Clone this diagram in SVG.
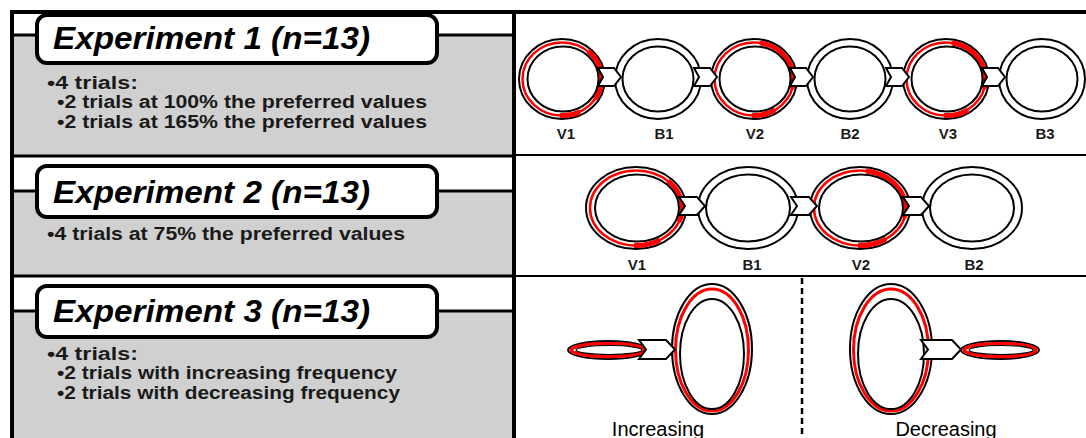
<svg xmlns="http://www.w3.org/2000/svg" width="1086" height="438" viewBox="0 0 1086 438">
<style>
.grey{fill:#d0d0d0}
.ln{stroke:#000;stroke-width:3;fill:none}
.thin{stroke:#000;stroke-width:2;fill:none}
.hbox{fill:#fff;stroke:#000;stroke-width:4}
.title{font-family:"Liberation Sans",Arial,sans-serif;font-weight:bold;font-style:italic;font-size:32px;fill:#000}
.bul{font-family:"Liberation Sans",Arial,sans-serif;font-weight:bold;font-size:18px;fill:#1a1a1a}
.lab{font-family:"Liberation Sans",Arial,sans-serif;font-weight:bold;font-size:15px;fill:#1a1a1a;text-anchor:middle}
.lab2{font-family:"Liberation Sans",Arial,sans-serif;font-size:20px;fill:#000;text-anchor:middle}
.ring{fill:#fff;stroke:#000;stroke-width:2}
.inner{fill:#fff;stroke:#000;stroke-width:2}
.red{fill:none;stroke:#f00;stroke-width:2.5}
.redT{fill:none;stroke:#f00;stroke-width:5}
.chev{fill:#fff;stroke:#000;stroke-width:2;stroke-linejoin:miter}
</style>
<rect width="1086" height="438" fill="#fff"/>
<g id="panel-left">
<rect class="grey" x="12" y="35" width="502" height="121"/>
<rect class="grey" x="12" y="191" width="502" height="85"/>
<rect class="grey" x="12" y="311" width="502" height="127"/>
<line class="ln" x1="12" y1="35" x2="514" y2="35"/>
<line class="ln" x1="12" y1="191" x2="514" y2="191"/>
<line class="ln" x1="12" y1="311" x2="514" y2="311"/>
<line class="ln" x1="12" y1="156" x2="514" y2="156"/>
<line class="ln" x1="12" y1="276" x2="514" y2="276"/>
</g>
<g id="frame">
<line x1="10" y1="12" x2="1086" y2="12" stroke="#000" stroke-width="4"/>
<line x1="12" y1="10" x2="12" y2="438" stroke="#000" stroke-width="4"/>
<line x1="514" y1="10" x2="514" y2="438" stroke="#000" stroke-width="4"/>
<line class="thin" x1="514" y1="155" x2="1086" y2="155"/>
<line class="thin" x1="514" y1="276" x2="1086" y2="276"/>
<line x1="802" y1="278" x2="802" y2="438" stroke="#000" stroke-width="2.5" stroke-dasharray="6 4"/>
</g>
<g id="exp1">
<rect class="hbox" x="37" y="15" width="400" height="48" rx="10"/>
<text class="title" x="53" y="49" textLength="317" lengthAdjust="spacingAndGlyphs">Experiment 1 (n=13)</text>
<text class="bul" x="47" y="89" textLength="91" lengthAdjust="spacingAndGlyphs">•4 trials:</text>
<text class="bul" x="57" y="108" textLength="370" lengthAdjust="spacingAndGlyphs">•2 trials at 100% the preferred values</text>
<text class="bul" x="57" y="128" textLength="370" lengthAdjust="spacingAndGlyphs">•2 trials at 165% the preferred values</text>
</g>
<g id="exp2">
<rect class="hbox" x="37" y="166" width="400" height="51" rx="10"/>
<text class="title" x="53" y="203" textLength="317" lengthAdjust="spacingAndGlyphs">Experiment 2 (n=13)</text>
<text class="bul" x="47" y="240" textLength="358" lengthAdjust="spacingAndGlyphs">•4 trials at 75% the preferred values</text>
</g>
<g id="exp3">
<rect class="hbox" x="37" y="286" width="400" height="51" rx="10"/>
<text class="title" x="53" y="322" textLength="317" lengthAdjust="spacingAndGlyphs">Experiment 3 (n=13)</text>
<text class="bul" x="47" y="360" textLength="91" lengthAdjust="spacingAndGlyphs">•4 trials:</text>
<text class="bul" x="57" y="379" textLength="340" lengthAdjust="spacingAndGlyphs">•2 trials with increasing frequency</text>
<text class="bul" x="57" y="399" textLength="343" lengthAdjust="spacingAndGlyphs">•2 trials with decreasing frequency</text>
</g>
<g id="e1-V1"><ellipse class="ring" cx="562" cy="79" rx="43" ry="40"/><ellipse class="red" cx="562" cy="79" rx="39.5" ry="36.5"/><path class="redT" d="M588 51 A39.5 36.5 0 0 1 595 99"/><path class="redT" d="M580 112 A39.5 36.5 0 0 1 560 115.5"/><ellipse class="inner" cx="563" cy="79" rx="35.5" ry="32.5"/><text class="lab" x="566" y="139">V1</text></g>
<g id="e1-B1"><ellipse class="ring" cx="658" cy="79" rx="43" ry="40"/><ellipse class="inner" cx="658" cy="79" rx="35.5" ry="32.5"/><text class="lab" x="664" y="139">B1</text></g>
<g id="e1-V2"><ellipse class="ring" cx="754" cy="79" rx="43" ry="40"/><ellipse class="red" cx="754" cy="79" rx="39.5" ry="36.5"/><path class="redT" d="M760 43 A39.5 36.5 0 0 1 792 89"/><path class="redT" d="M775 110 A39.5 36.5 0 0 1 752 115.5"/><ellipse class="inner" cx="755" cy="79" rx="35.5" ry="32.5"/><text class="lab" x="755" y="139">V2</text></g>
<g id="e1-B2"><ellipse class="ring" cx="850" cy="79" rx="43" ry="40"/><ellipse class="inner" cx="850" cy="79" rx="35.5" ry="32.5"/><text class="lab" x="850" y="139">B2</text></g>
<g id="e1-V3"><ellipse class="ring" cx="946" cy="79" rx="43" ry="40"/><ellipse class="red" cx="946" cy="79" rx="39.5" ry="36.5"/><path class="redT" d="M952 43 A39.5 36.5 0 0 1 984 89"/><path class="redT" d="M968 110 A39.5 36.5 0 0 1 944 115.5"/><ellipse class="inner" cx="947" cy="79" rx="35.5" ry="32.5"/><text class="lab" x="948" y="139">V3</text></g>
<g id="e1-B3"><ellipse class="ring" cx="1042" cy="79" rx="43" ry="40"/><ellipse class="inner" cx="1042" cy="79" rx="35.5" ry="32.5"/><text class="lab" x="1045" y="139">B3</text></g>
<g id="e2-V1"><ellipse class="ring" cx="636" cy="208" rx="50" ry="41"/><ellipse class="red" cx="636" cy="208" rx="46" ry="37.5"/><path class="redT" d="M668 181 A46 37.5 0 0 1 679 222"/><path class="redT" d="M660 240 A46 37.5 0 0 1 634 245.5"/><ellipse class="inner" cx="637" cy="208" rx="42" ry="33.5"/><text class="lab" x="637" y="270">V1</text></g>
<g id="e2-B1"><ellipse class="ring" cx="748" cy="208" rx="50" ry="41"/><ellipse class="inner" cx="748" cy="208" rx="42" ry="33.5"/><text class="lab" x="752" y="270">B1</text></g>
<g id="e2-V2"><ellipse class="ring" cx="860" cy="208" rx="50" ry="41"/><ellipse class="red" cx="860" cy="208" rx="46" ry="37.5"/><path class="redT" d="M866 171 A46 37.5 0 0 1 904 218"/><path class="redT" d="M886 239 A46 37.5 0 0 1 858 245.5"/><ellipse class="inner" cx="861" cy="208" rx="42" ry="33.5"/><text class="lab" x="861" y="270">V2</text></g>
<g id="e2-B2"><ellipse class="ring" cx="972" cy="208" rx="50" ry="41"/><ellipse class="inner" cx="972" cy="208" rx="42" ry="33.5"/><text class="lab" x="974" y="270">B2</text></g>
<g id="e3-inc-small"><ellipse class="ring" cx="608" cy="350" rx="40" ry="9"/><ellipse cx="608" cy="350" rx="37" ry="6.5" fill="none" stroke="#f00" stroke-width="3.5"/><ellipse cx="609" cy="350" rx="33" ry="4.5" fill="#fff" stroke="#000" stroke-width="1.2"/></g>
<g id="e3-inc-big"><ellipse class="ring" cx="712" cy="349" rx="40" ry="65"/><ellipse cx="712" cy="350" rx="36.5" ry="61" fill="none" stroke="#f00" stroke-width="3"/><ellipse class="inner" cx="712" cy="354" rx="32" ry="55"/><text class="lab2" x="658" y="436">Increasing</text></g>
<g id="e3-dec-big"><ellipse class="ring" cx="891" cy="349" rx="41" ry="65"/><ellipse cx="891" cy="350" rx="37.5" ry="61" fill="none" stroke="#f00" stroke-width="3"/><ellipse class="inner" cx="891" cy="354" rx="33" ry="55"/><text class="lab2" x="946" y="436">Decreasing</text></g>
<g id="e3-dec-small"><ellipse class="ring" cx="1000" cy="350" rx="39" ry="9"/><ellipse cx="1000" cy="350" rx="36" ry="6.5" fill="none" stroke="#f00" stroke-width="3.5"/><ellipse cx="1001" cy="350" rx="32" ry="4.5" fill="#fff" stroke="#000" stroke-width="1.2"/></g>
<g id="connectors">
<polygon class="chev" points="598,68 614,68 621,77 614,86 598,86 603,77"/>
<polygon class="chev" points="694,68 710,68 717,77 710,86 694,86 699,77"/>
<polygon class="chev" points="790,68 806,68 813,77 806,86 790,86 795,77"/>
<polygon class="chev" points="886,68 902,68 909,77 902,86 886,86 891,77"/>
<polygon class="chev" points="982,68 998,68 1005,77 998,86 982,86 987,77"/>
<polygon class="chev" points="679,197 697,197 705,206 697,215 679,215 685,206"/>
<polygon class="chev" points="791,197 809,197 817,206 809,215 791,215 797,206"/>
<polygon class="chev" points="903,197 921,197 929,206 921,215 903,215 909,206"/>
<polygon class="chev" points="639,340 666,340 675,349.5 666,359 639,359 646,349.5"/>
<polygon class="chev" points="921,340 952,340 961,349.5 952,359 921,359 928,349.5"/>
</g>
</svg>
